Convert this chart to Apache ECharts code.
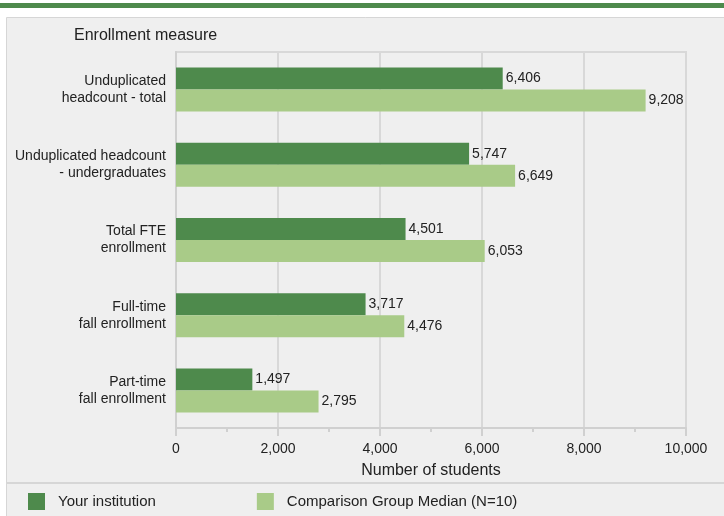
<!DOCTYPE html>
<html><head><meta charset="utf-8">
<script src="https://cdn.jsdelivr.net/npm/echarts@6/dist/echarts.min.js"></script>
<style>html,body{margin:0;padding:0;background:#fff}#c{width:724px;height:516px}</style>
</head><body><div id="c"></div>
<script>
var categories = ['Unduplicated\nheadcount - total', 'Unduplicated headcount\n- undergraduates', 'Total FTE\nenrollment', 'Full-time\nfall enrollment', 'Part-time\nfall enrollment'];
var yourInstitution = [6406, 5747, 4501, 3717, 1497];
var comparisonMedian = [9208, 6649, 6053, 4476, 2795];
var seriesNames = ['Your institution', 'Comparison Group Median (N=10)'];
var xTicks = [0, 2000, 4000, 6000, 8000, 10000];

var FONT = '"Liberation Sans", Arial, sans-serif';
var chart = echarts.init(document.getElementById('c'), null, {renderer: 'canvas'});
var fmt = function (v) { return Number(v).toLocaleString('en-US'); };
var labelCfg = {show: true, position: 'right', distance: 3, fontFamily: FONT, fontSize: 14, color: '#222',
  formatter: function (p) { return fmt(p.value); }};
chart.setOption({
  animation: false,
  backgroundColor: '#ffffff',
  graphic: [
    {type: 'rect', z: -10, shape: {x: 0, y: 3, width: 724, height: 5}, style: {fill: '#4e8a4c'}},
    {type: 'rect', z: -10, shape: {x: 6.5, y: 17.5, width: 740, height: 520}, style: {fill: '#efefef', stroke: '#d6d6d6', lineWidth: 1}},
    {type: 'line', z: -5, shape: {x1: 7, y1: 483, x2: 724, y2: 483}, style: {stroke: '#d6d6d6', lineWidth: 2}},
    {type: 'text', left: 74, top: 28, style: {text: 'Enrollment measure', fontFamily: FONT, fontSize: 16, fill: '#222'}}
  ],
  grid: {left: 176, right: 38, top: 52, bottom: 88, show: true, borderColor: '#d8d8d8', borderWidth: 2, backgroundColor: 'transparent'},
  legend: {
    left: 28, top: 493, padding: 0, itemWidth: 17, itemHeight: 17, itemGap: 101, icon: 'rect',
    textStyle: {fontFamily: FONT, fontSize: 15, color: '#222', padding: [0, 0, 0, 8]},
    data: seriesNames
  },
  xAxis: {
    type: 'value', min: 0, max: 10000, interval: 2000,
    name: 'Number of students', nameLocation: 'middle', nameGap: 35,
    nameTextStyle: {fontFamily: FONT, fontSize: 16, color: '#222'},
    axisLine: {show: true, lineStyle: {color: '#d0d0d0', width: 2}},
    axisTick: {show: true, length: 8, lineStyle: {color: '#d0d0d0', width: 2}},
    minorTick: {show: true, splitNumber: 2, length: 4, lineStyle: {color: '#d0d0d0', width: 2}},
    splitLine: {show: true, lineStyle: {color: '#d8d8d8', width: 2}},
    axisLabel: {margin: 14, fontFamily: FONT, fontSize: 14, color: '#222', formatter: function (v) { return fmt(v); }}
  },
  yAxis: {
    type: 'category', data: categories, inverse: true,
    axisLine: {show: true, lineStyle: {color: '#d0d0d0', width: 2}},
    axisTick: {show: false},
    axisLabel: {margin: 10, fontFamily: FONT, fontSize: 14, color: '#222', lineHeight: 17, align: 'right'}
  },
  series: [
    {name: seriesNames[0], type: 'bar', data: yourInstitution, barWidth: 22, barGap: '0%', itemStyle: {color: '#4e8a4c'}, label: labelCfg},
    {name: seriesNames[1], type: 'bar', data: comparisonMedian, barWidth: 22, barGap: '0%', itemStyle: {color: '#a9cb88'}, label: labelCfg}
  ]
});
</script></body></html>
